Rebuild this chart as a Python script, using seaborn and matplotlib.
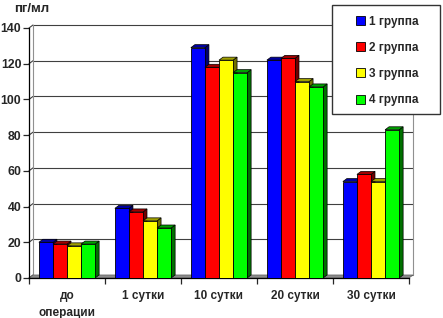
import matplotlib
matplotlib.use("Agg")
import matplotlib.pyplot as plt
from matplotlib.patches import Polygon, Rectangle
import numpy as np
import pandas as pd
import seaborn as sns

# Data
categories = ["до\nоперации", "1 сутки", "10 сутки", "20 сутки", "30 сутки"]
groups = ["1 группа", "2 группа", "3 группа", "4 группа"]
group1 = [20, 39, 129, 122, 54]
group2 = [19, 37, 118, 123, 58]
group3 = [18, 32, 122, 110, 54]
group4 = [19, 28, 115, 107, 83]
yticks = [0, 20, 40, 60, 80, 100, 120, 140]

colors = ["#0000FF", "#FF0000", "#FFFF00", "#00FF00"]
tops = ["#0000A0", "#A00000", "#A0A000", "#00A000"]
sides = ["#000070", "#700000", "#707000", "#007000"]

df = pd.DataFrame({
    "cat": categories * 4,
    "group": sum([[g] * 5 for g in groups], []),
    "value": group1 + group2 + group3 + group4,
})

sns.set_style("white")
plt.rcParams["font.family"] = ["Liberation Sans", "DejaVu Sans"]
plt.rcParams["font.weight"] = "bold"

fig = plt.figure(figsize=(4.43, 3.18), dpi=100)
ax = fig.add_axes([29 / 443, 40 / 318, 380 / 443, 250 / 318])

sns.barplot(data=df, x="cat", y="value", hue="group", palette=colors,
            width=0.74, edgecolor="black", linewidth=0.6, ax=ax,
            legend=False, saturation=1)

ax.set_xlim(-0.5, 4.5)
ax.set_ylim(0, 140)

# 3D depth offsets in data units (4 px right, 3 px up)
dx = 4 / 380 * 5
dy = 3 / 250 * 140
x0, x1 = ax.get_xlim()

# back wall grid lines
for v in yticks:
    ax.plot([x0 + dx, x1 + dx], [v + dy, v + dy], color="#404040", lw=0.8,
            zorder=0.5, clip_on=False)
    ax.plot([x0, x0 + dx], [v, v + dy], color="#404040", lw=0.8,
            zorder=0.5, clip_on=False)
# back wall edges
ax.plot([x0 + dx, x0 + dx], [dy, 140 + dy], color="#909090", lw=0.8,
        zorder=0.5, clip_on=False)
ax.plot([x1 + dx, x1 + dx], [dy, 140 + dy], color="#909090", lw=0.8,
        zorder=0.5, clip_on=False)
# floor
ax.add_patch(Polygon([[x0, 0], [x1, 0], [x1 + dx, dy], [x0 + dx, dy]],
                     closed=True, facecolor="#8C8C8C", edgecolor="#606060",
                     lw=0.5, zorder=0.6, clip_on=False))

# 3D faces for bars
for h, cont in enumerate(ax.containers):
    for bar in cont:
        bx, bw, bh = bar.get_x(), bar.get_width(), bar.get_height()
        side = Polygon([[bx + bw, 0], [bx + bw + dx, dy],
                        [bx + bw + dx, bh + dy], [bx + bw, bh]],
                       closed=True, facecolor=sides[h], edgecolor="black",
                       lw=0.5, zorder=2 + 2 * h, clip_on=False)
        top = Polygon([[bx, bh], [bx + dx, bh + dy], [bx + bw + dx, bh + dy],
                       [bx + bw, bh]],
                      closed=True, facecolor=tops[h], edgecolor="black",
                      lw=0.5, zorder=2 + 2 * h, clip_on=False)
        ax.add_patch(side)
        ax.add_patch(top)
        bar.set_zorder(3 + 2 * h)

# axes styling
for s in ["top", "right"]:
    ax.spines[s].set_visible(False)
ax.spines["left"].set_color("black")
ax.spines["bottom"].set_color("black")
ax.spines["left"].set_linewidth(0.9)
ax.spines["bottom"].set_linewidth(0.9)

ax.set_yticks(yticks)
ax.set_yticklabels([str(v) for v in yticks], fontsize=8.8, fontweight="bold")
ax.tick_params(axis="y", direction="out", length=4, width=0.9, pad=1.5,
               left=True)
ax.set_xticks(range(5))
ax.set_xticklabels(categories, fontsize=8.5, fontweight="bold",
                   linespacing=1.5)
ax.tick_params(axis="x", which="major", length=0, pad=9)
ax.set_xticks(np.arange(-0.5, 5, 1), minor=True)
ax.tick_params(axis="x", which="minor", direction="out", length=4,
               width=0.9, bottom=True)
ax.set_xlabel("")
ax.set_ylabel("")

fig.text(14 / 443, 1 - 3 / 318, "пг/мл", fontsize=9.5, fontweight="bold",
         ha="left", va="top")

# legend box
fig.patches.append(Rectangle((332 / 443, 1 - 114 / 318), 108 / 443, 109 / 318,
                             transform=fig.transFigure, facecolor="white",
                             edgecolor="#333333", lw=1, zorder=10))
handles = [Rectangle((0, 0), 1, 1, facecolor=c, edgecolor="black", lw=0.6)
           for c in colors]
leg = fig.legend(handles, groups, loc="upper left",
                 bbox_to_anchor=(345 / 443, 1 - 5 / 318), frameon=False,
                 prop={"size": 8.5, "weight": "bold"}, handlelength=0.8,
                 handleheight=0.8, handletextpad=0.35, labelspacing=1.2)
leg.set_zorder(11)

fig.savefig("out.png", dpi=100)
